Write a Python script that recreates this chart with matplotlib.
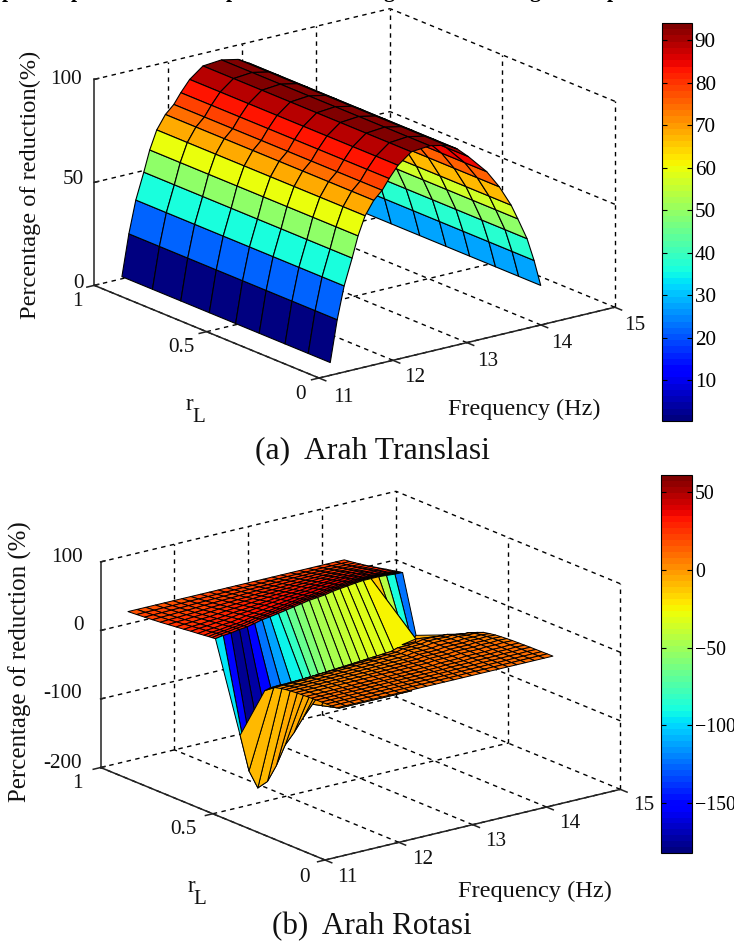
import numpy as np
import matplotlib
matplotlib.use('Agg')
import matplotlib.pyplot as plt
from matplotlib.colors import Normalize
from matplotlib.cm import ScalarMappable
from mpl_toolkits.mplot3d import proj3d

W, H = 734, 943
FONT = 'Liberation Serif'

# panel a: reduction against frequency, almost the same for every r
freq_a = [11.374, 11.468, 11.562, 11.67, 11.75, 11.845, 11.962, 12.076, 12.17, 12.29, 12.47,
          12.72, 12.945, 13.09, 13.24, 13.49, 13.66, 13.82, 13.91, 14.035, 14.13, 14.22]
z_a = [1, 21, 36.6, 49.2, 59.3, 68.2, 74.7, 78.6, 83.5, 88.9, 93.9,
       94.7, 93, 90, 85, 75.5, 66.7, 56.4, 49, 38.3, 26.9, 14]
r_a = [0.073, 0.171, 0.274, 0.389, 0.494, 0.611, 0.738, 0.864, 1.0]

# panel b, one entry per frequency line
freq_b = [11.37, 11.49, 11.61, 11.74, 11.86, 11.98, 12.10, 12.22, 12.35, 12.47, 12.59, 12.71, 12.83,
          12.96, 13.08, 13.20, 13.32, 13.44, 13.57, 13.69, 13.81, 13.93, 14.05, 14.18, 14.30]
z_dip = [-95, -150, -178, -172, -152, -125, -110, -92, -75, -80, -85, -90, -90,
         -90, -90, -90, -90, -90, -90, -90, -20, -45, -52, -52, -49]
r_dip = [.5, .5, .5, .5, .5, .5, .5, .5, .5, .5, .5, .5, .5,
         .5, .5, .5, .5, .5, .5, .5, .52, .62, .64, .66, .68]
# colour of the strip above the trough, it is hidden behind the low plateau from col 8 on
c_dip = [-95, -150, -178, -172, -152, -125, -110, -92, -80, -68, -60, -52, -46,
         -42, -38, -34, -33, -32, -31, -26, -12, -45, -90, -122, -122]
z_top = [31, 32, 32, 33, 33, 34, 35.5, 36, 37, 38, 39, 40, 41,
         41, 41, 42, 42, 42, 42, 42, 41, 40, 38, 36, 34.5]
r_top = [.61, .615, .62, .625, .63, .636, .642, .647, .652, .657, .662, .667, .672,
         .678, .684, .69, .697, .703, .71, .715, .72, .725, .73, .735, .74]
z_back = [-15, -14, -14, -13, -12, -11, -10, -9, -8, -7, -6, -5, -4,
          -3, -2, -1, -1, 0, 0, 0, -1, -3, -6, -10, -14]
r_back = [.39, .39, .39, .39, .39, .39, .39, .39, .39, .39, .39, .39, .39,
          .39, .39, .40, .40, .40, .41, .41, .41, .42, .42, .43, .43]
# rows of the low and high plateau, as steps between the read edges
low_pos = [0, .07, .14, .21, .28, .35, .42, .5, .57, .64, .71, .78, .86, .93, 1]
low_z = [0, .01, .02, .03, .04, .06, .08, .1, .13, .17, .22, .3, .42, .62, 1]
high_pos = [0, .04, .08, .13, .2, .28, .36, .45, .54, .63, .72, .81, .9, 1]
high_z = [0, .04, .08, .14, .22, .3, .4, .5, .6, .7, .78, .86, .93, 1]
r_front = 0.07
z_front = 3
z_far = 18
low_colour_shift = 6

# tick text, centred on the read pixel
text_a = [(66, 79, '100'), (73, 180, '50'), (79, 283, '0'), (77, 301, '1'), (181, 348, '0.5'),
          (301, 395, '0'), (343, 397, '11'), (415, 378, '12'), (488, 362, '13'),
          (562, 343, '14'), (635, 325, '15')]
text_b = [(67, 557, '100'), (79, 626, '0'), (63, 694, '-100'), (63, 763, '-200'), (77, 783, '1'),
          (183, 830, '0.5'), (305, 877, '0'), (347, 878, '11'), (423, 860, '12'), (496, 842, '13'),
          (570, 823, '14'), (644, 806, '15')]
# feet of the line of text that the crop cuts at the top
cut_line = [(8, 'p'), (77, 'p'), (232, 'p'), (389, 'g'), (535, 'g'), (613, 'p')]

jet = matplotlib.colormaps['jet'].resampled(64)


def build_b():
    fr = np.array(freq_b)
    rows_r, rows_z, rows_c = [], [], []
    for p, q in zip(low_pos, low_z):
        rows_r.append(r_front + (np.array(r_back) - r_front) * p)
        rows_z.append(z_front + (np.array(z_back) - z_front) * q)
        rows_c.append(rows_z[-1] + low_colour_shift)
    rows_r.append(np.array(r_dip))
    rows_z.append(np.array(z_dip, dtype=float))
    rows_c.append(np.array(c_dip, dtype=float))
    for p, q in zip(high_pos, high_z):
        rows_r.append(np.array(r_top) + (1 - np.array(r_top)) * p)
        rows_z.append(np.array(z_top) + (z_far - np.array(z_top)) * q)
        rows_c.append(rows_z[-1])
    rr = np.array(rows_r)
    return np.tile(fr, (len(rr), 1)), rr, np.array(rows_z), np.array(rows_c)


def fit_axes(ax, front_px, right_px, lims):
    # scale and shift the square 3D axes so two box corners land on given pixels
    xlo, xhi, ylo, yhi, zlo = lims
    m = ax.get_proj()
    u0, v0, _ = proj3d.proj_transform(xlo, ylo, zlo, m)
    u1, v1, _ = proj3d.proj_transform(xhi, ylo, zlo, m)
    S = 500.0
    cx, cy = 350.0, 300.0

    def setpos():
        ax.set_position([(cx - S / 2) / W, (cy - S / 2) / H, S / W, S / H])
        ax.apply_aspect()
    setpos()
    p = ax.transData.transform([(u0, v0), (u1, v1)])
    want = np.array([[front_px[0], H - front_px[1]], [right_px[0], H - right_px[1]]])
    S *= np.linalg.norm(want[1] - want[0]) / np.linalg.norm(p[1] - p[0])
    setpos()
    p = ax.transData.transform([(u0, v0), (u1, v1)])
    cx += want[0, 0] - p[0, 0]
    cy += want[0, 1] - p[0, 1]
    setpos()


def box_lines(ax, fticks, rticks, zticks, tick_z):
    dash = dict(color='k', lw=1.0, ls=(0, (3.2, 3.2)))
    solid = dict(color='#222222', lw=1.1)
    flo, fhi, rlo, rhi, zlo, zhi = fticks[0], fticks[-1], rticks[0], rticks[-1], zticks[0], zticks[-1]
    for f in fticks:
        ax.plot([f, f], [rlo, rhi], [zlo, zlo], **dash)
        if f > flo:
            ax.plot([f, f], [rhi, rhi], [zlo, zhi], **dash)
    for r in rticks:
        ax.plot([flo, fhi], [r, r], [zlo, zlo], **dash)
        if r < rhi:
            ax.plot([fhi, fhi], [r, r], [zlo, zhi], **dash)
    for z in zticks[1:]:
        ax.plot([flo, fhi], [rhi, rhi], [z, z], **dash)
        ax.plot([fhi, fhi], [rlo, rhi], [z, z], **dash)
    ax.plot([flo, flo], [rhi, rhi], [zlo, zhi], **solid)
    ax.plot([flo, flo], [rlo, rhi], [zlo, zlo], **solid)
    ax.plot([flo, fhi], [rlo, rlo], [zlo, zlo], **solid)
    for f in fticks:
        ax.plot([f, f], [rlo, rlo - 0.03], [zlo, zlo], **solid)
    for r in rticks:
        ax.plot([flo, flo - 0.1], [r, r], [zlo, zlo], **solid)
    for z in tick_z:
        ax.plot([flo, flo + 0.06], [rhi, rhi], [z, z], **solid)


def panel(F, R, Z, C, lims, clim, zticks, front_px, right_px, lw):
    ax = fig.add_subplot(projection='3d', computed_zorder=True)
    ax.set_proj_type('ortho')
    ax.view_init(elev=18.3, azim=-127.3)
    ax.set_box_aspect((372, 371, 217))
    ax.set_xlim(lims[0], lims[1], view_margin=0)
    ax.set_ylim(lims[2], lims[3], view_margin=0)
    ax.set_zlim(zticks[0], zticks[-1], view_margin=0)
    ax.set_axis_off()
    box_lines(ax, [11, 12, 13, 14, 15], [0, 0.5, 1], zticks, zticks)
    norm = Normalize(*clim)
    surf = ax.plot_surface(F, R, Z, facecolors=jet(norm(C)), rstride=1, cstride=1, shade=False)
    surf.set_edgecolor('k')
    surf.set_linewidth(lw)
    fit_axes(ax, front_px, right_px, (lims[0], lims[1], lims[2], lims[3], zticks[0]))
    return ax


def label(x, y, s, size=15.2, **kw):
    fig.text(x / W, 1 - y / H, s, ha='center', va='center', family=FONT, fontsize=size, color='#111111', **kw)


def colorbar(left, top, right, bottom, clim, ticks, size):
    cax = fig.add_axes([left / W, 1 - bottom / H, (right - left) / W, (bottom - top) / H])
    cb = fig.colorbar(ScalarMappable(Normalize(*clim), cmap=jet), cax=cax, ticks=ticks)
    cb.outline.set_linewidth(0.8)
    cax.tick_params(direction='in', left=True, right=True, length=3.5, width=0.8, pad=2,
                    labelsize=size, labelfontfamily=FONT)


fig = plt.figure(figsize=(W / 100, H / 100), dpi=100)

for x, s in cut_line:
    fig.text(x / W, 1 + 3.0 / H, s, ha='center', va='baseline', family=FONT, fontsize=15.5,
             fontweight='bold', color='k')

# panel a
ra, fa = np.array(r_a), np.array(freq_a)
Fa, Ra = np.meshgrid(fa, ra)
Za = np.tile(np.array(z_a, dtype=float), (len(ra), 1))
panel(Fa, Ra, Za, Za, (11, 15, 0, 1), (0.4, 94), [0, 50, 100], (319, 378), (615, 308), 0.8)
colorbar(662, 23, 692, 421, (0.4, 94), list(range(10, 100, 10)), 15.2)

for x, y, s in text_a:
    label(x, y, s)
label(524, 409, 'Frequency (Hz)', size=17.4)
label(189, 404, 'r', size=16.5)
label(199, 418, 'L', size=15)
label(30, 185, 'Percentage of reduction(%)', size=17.6, rotation=90)
label(372, 451, '(a)  Arah Translasi', size=22.8)

# panel b
Fb, Rb, Zb, Cb = build_b()
panel(Fb, Rb, Zb, Cb, (11, 15, 0, 1), (-182, 61), [-200, -100, 0, 100], (325, 860), (620, 788), 0.7)
colorbar(661, 475, 692, 853, (-182, 61), [-150, -100, -50, 0, 50], 14.3)

for x, y, s in text_b:
    label(x, y, s)
label(535, 891, 'Frequency (Hz)', size=17.6)
label(191, 886, 'r', size=16.5)
label(200, 900, 'L', size=15)
label(20, 662, 'Percentage of reduction (%)', size=17.9, rotation=90)
label(372, 927, '(b)  Arah Rotasi', size=22.4)

fig.savefig('out.png', dpi=100)
